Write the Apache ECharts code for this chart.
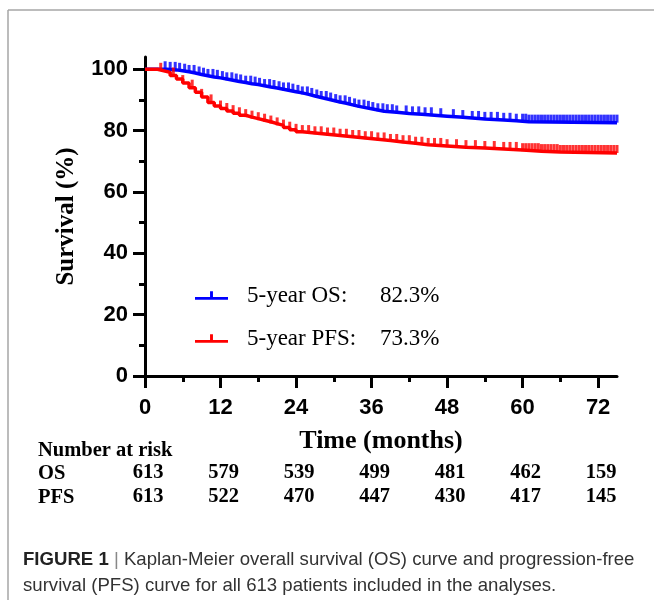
<!DOCTYPE html>
<html>
<head>
<meta charset="utf-8">
<script src="https://cdn.jsdelivr.net/npm/echarts@6/dist/echarts.min.js"></script>
<style>
  html, body { margin: 0; padding: 0; background: #fff; }
  #main { width: 654px; height: 600px; }
</style>
</head>
<body>
<div id="main"></div>
<script>
// Kaplan-Meier steps (months, survival %)
var osTime = [0, 3.5, 5, 6, 7, 8, 9, 10, 11, 12, 13, 14, 15, 16, 17, 18, 19, 20, 21, 22, 23, 24, 25, 26, 27, 28, 29, 30, 31, 32, 33, 34, 35, 36, 37, 38, 40, 42, 44, 46, 48, 50, 52, 54, 57, 59, 61, 75];
var osSurv = [100, 99.8, 99.5, 99.2, 98.8, 98.3, 97.9, 97.5, 97.2, 96.8, 96.4, 96.0, 95.7, 95.3, 95.0, 94.6, 94.2, 93.9, 93.5, 93.1, 92.7, 92.3, 91.8, 91.3, 90.8, 90.3, 89.8, 89.3, 88.9, 88.4, 87.9, 87.5, 87.1, 86.7, 86.3, 86.0, 85.6, 85.3, 85.0, 84.7, 84.4, 84.1, 83.8, 83.5, 83.2, 82.9, 82.6, 82.6];

var pfsTime = [0, 2, 3, 4, 5, 6, 7, 8, 9, 10, 11, 12, 13, 14, 15, 16, 17, 18, 19, 20, 21, 22, 23, 24, 25, 27, 29, 31, 33, 35, 37, 39, 41, 43, 45, 48, 51, 54, 57, 60, 63, 66, 75];
var pfsSurv = [100, 99.5, 99.0, 98.0, 96.8, 95.5, 94.0, 92.5, 91.0, 89.2, 88.0, 87.2, 86.4, 85.7, 85.0, 84.4, 83.9, 83.4, 82.9, 82.3, 81.7, 81.0, 80.3, 79.6, 79.2, 78.8, 78.4, 78.0, 77.6, 77.2, 76.8, 76.3, 75.9, 75.4, 75.0, 74.6, 74.3, 74.0, 73.7, 73.3, 73.0, 72.7, 72.7];

// censoring marks (months)
var osCensor = [3.2, 4, 4.8, 5.5, 6.3, 7, 7.8, 8.6, 9.3, 10, 10.8, 11.5, 12.3, 13, 13.8, 14.5, 15.2, 16, 16.8, 17.5, 18.2, 19, 19.8, 20.5, 21.3, 22, 22.8, 23.5, 24.3, 25, 25.8, 26.5, 27.3, 28, 28.8, 29.5, 30.3, 31, 31.8, 32.5, 33.3, 34, 34.8, 35.5, 36.2, 37, 37.8, 38.5, 39.3, 40, 41.5, 42.5, 43.5, 44.5, 45.5, 47, 49, 50.5, 52, 53, 54, 55, 56, 57, 58, 59, 60, 60.5, 61, 61.5, 62, 62.5, 63, 63.5, 64, 64.5, 65, 65.5, 66, 66.5, 67, 67.5, 68, 68.5, 69, 69.5, 70, 70.5, 71, 71.5, 72, 72.5, 73, 73.5, 74, 74.5, 75];
var pfsCensor = [2.5, 4.5, 6, 7.5, 9, 10.5, 12, 13, 14, 15, 16, 17, 18, 19, 20, 21, 22, 23, 24, 25, 26, 27, 28, 29, 30, 31, 32, 33, 34, 35, 36, 37, 38, 39, 40, 41, 42, 43, 44, 45, 46, 47, 48, 49.5, 51, 52.5, 54, 55.5, 57, 58, 59, 60, 60.5, 61, 61.5, 62, 62.5, 63, 63.5, 64, 64.5, 65, 65.5, 66, 66.5, 67, 67.5, 68, 68.5, 69, 69.5, 70, 70.5, 71, 71.5, 72, 72.5, 73, 73.5, 74, 74.5, 75];

var xMajor = [0, 12, 24, 36, 48, 60, 72];
var xMinor = [6, 18, 30, 42, 54, 66];
var yMajor = [0, 20, 40, 60, 80, 100];
var yMinor = [10, 30, 50, 70, 90];

var seriesNames = ['OS', 'PFS'];
var fiveYear = ['82.3%', '73.3%'];

// number at risk
var riskTimes = [0, 12, 24, 36, 48, 60, 72];
var osRisk = [613, 579, 539, 499, 481, 462, 159];
var pfsRisk = [613, 522, 470, 447, 430, 417, 145];

function pairs(ts, vs) {
  return ts.map(function (t, i) { return [t, vs[i]]; });
}
function stepAt(ts, vs, t) {
  var v = vs[0];
  for (var i = 0; i < ts.length; i++) { if (ts[i] <= t) v = vs[i]; }
  return v;
}
function censorPts(cs, ts, vs) {
  return cs.map(function (c) { return [c, stepAt(ts, vs, c)]; });
}

var SERIF = '"Liberation Serif", "Times New Roman", serif';
var SANS = '"Liberation Sans", Arial, sans-serif';
var blue = '#0000ff', red = '#ff0000';
var tickIcon = 'path://M0,6 L34,6 L34,9 L0,9 Z M15.5,0 L18.5,0 L18.5,6 L15.5,6 Z';

var chart = echarts.init(document.getElementById('main'));

function axisPair(dim, max, major, minor, extra) {
  var main = Object.assign({
    type: 'value', min: 0, max: max, position: dim === 'x' ? 'bottom' : 'left',
    axisLine: { show: true, lineStyle: { color: '#000', width: 3 } },
    axisTick: { show: true, customValues: major, length: 12, lineStyle: { color: '#000', width: 3 } },
    axisLabel: { customValues: major, color: '#000', fontFamily: SANS, fontWeight: 'bold', fontSize: 22 },
    splitLine: { show: false }
  }, extra);
  var sub = {
    type: 'value', min: 0, max: max, position: dim === 'x' ? 'bottom' : 'left',
    axisLine: { show: false },
    axisTick: { show: true, customValues: minor, length: 6, lineStyle: { color: '#000', width: 3 } },
    axisLabel: { show: false },
    splitLine: { show: false }
  };
  return [main, sub];
}

var xAxes = axisPair('x', 75, xMajor, xMinor, {
  name: 'Time (months)', nameLocation: 'middle', nameGap: 52,
  nameTextStyle: { fontFamily: SERIF, fontWeight: 'bold', fontSize: 26, color: '#000' }
});
xAxes[0].axisLabel.margin = 21;
var yAxes = axisPair('y', 104, yMajor, yMinor, {
  name: 'Survival (%)', nameLocation: 'middle', nameGap: 66,
  nameTextStyle: { fontFamily: SERIF, fontWeight: 'bold', fontSize: 25, color: '#000' }
});
yAxes[0].axisLabel.margin = 17;

chart.setOption({
  animation: false,
  grid: { left: 145, right: 37, top: 57, bottom: 224, containLabel: false },
  xAxis: xAxes,
  yAxis: yAxes,
  legend: {
    data: seriesNames.map(function (n) { return { name: n, icon: tickIcon }; }),
    orient: 'vertical', left: 195, top: 284, itemGap: 20, padding: 0,
    itemWidth: 33, itemHeight: 9,
    formatter: function (name) {
      var i = seriesNames.indexOf(name);
      return '{s| }{a|5-year ' + name + ':}{b|' + fiveYear[i] + '}';
    },
    textStyle: {
      fontFamily: SERIF, fontSize: 23, color: '#000',
      rich: {
        s: { width: 14 },
        a: { width: 133, fontFamily: SERIF, fontSize: 23, color: '#000' },
        b: { fontFamily: SERIF, fontSize: 23, color: '#000' }
      }
    },
    selectedMode: false
  },
  series: [
    { name: 'OS', type: 'line', step: 'end', data: pairs(osTime, osSurv), showSymbol: false,
      color: blue, lineStyle: { color: blue, width: 3.5 }, z: 3 },
    { name: 'PFS', type: 'line', step: 'end', data: pairs(pfsTime, pfsSurv), showSymbol: false,
      color: red, lineStyle: { color: red, width: 3.5 }, z: 3 },
    { name: 'OS censored', type: 'scatter', data: censorPts(osCensor, osTime, osSurv),
      symbol: 'rect', symbolSize: [3, 8], symbolOffset: [0, -4], itemStyle: { color: blue }, z: 4 },
    { name: 'PFS censored', type: 'scatter', data: censorPts(pfsCensor, pfsTime, pfsSurv),
      symbol: 'rect', symbolSize: [3, 8], symbolOffset: [0, -4], itemStyle: { color: red }, z: 4 }
  ]
});

// number-at-risk table placed with the x scale, frame and caption
var g = [];
var tableFont = 'bold 20.5px ' + SERIF;
g.push({ type: 'text', left: 38, top: 440, style: { text: 'Number at risk', font: tableFont, fill: '#000' } });
g.push({ type: 'text', left: 38, top: 463, style: { text: 'OS', font: tableFont, fill: '#000' } });
g.push({ type: 'text', left: 38, top: 487, style: { text: 'PFS', font: tableFont, fill: '#000' } });
riskTimes.forEach(function (t, i) {
  var px = chart.convertToPixel({ xAxisIndex: 0 }, t) + 3;
  g.push({ type: 'text', x: px, y: 473, style: { text: String(osRisk[i]), font: tableFont, fill: '#000', align: 'center', verticalAlign: 'middle' } });
  g.push({ type: 'text', x: px, y: 497, style: { text: String(pfsRisk[i]), font: tableFont, fill: '#000', align: 'center', verticalAlign: 'middle' } });
});
g.push({ type: 'line', shape: { x1: 8, y1: 10, x2: 654, y2: 10 }, style: { stroke: '#a6a6a6', lineWidth: 1.5 } });
g.push({ type: 'line', shape: { x1: 8, y1: 10, x2: 8, y2: 600 }, style: { stroke: '#a6a6a6', lineWidth: 1.5 } });
g.push({ type: 'text', x: 23, y: 560, style: {
  text: '{b|FIGURE 1} {p||} Kaplan-Meier overall survival (OS) curve and progression-free',
  font: '18.6px ' + SANS, fill: '#333', verticalAlign: 'middle',
  rich: { b: { fontWeight: 'bold', fontSize: 18.6, fontFamily: SANS, fill: '#222' }, p: { fill: '#888', fontSize: 18.6, fontFamily: SANS } }
} });
g.push({ type: 'text', x: 23, y: 586, style: {
  text: 'survival (PFS) curve for all 613 patients included in the analyses.',
  font: '18.6px ' + SANS, fill: '#333', verticalAlign: 'middle'
} });
chart.setOption({ graphic: g });
</script>
</body>
</html>
